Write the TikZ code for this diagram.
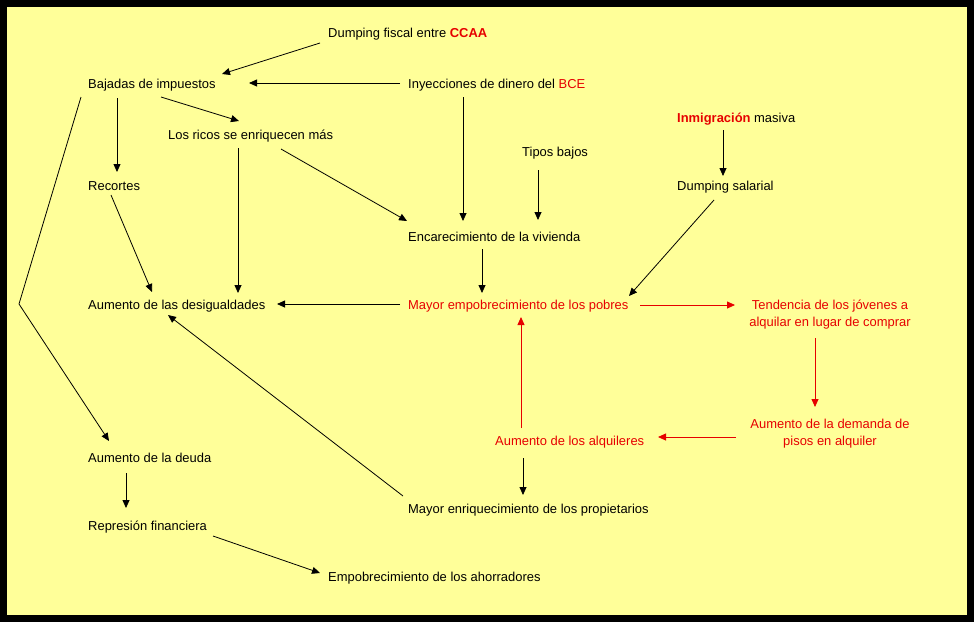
\documentclass[tikz,border=0pt]{standalone}
\usepackage{fontspec}
\setmainfont{Liberation Sans}
\usetikzlibrary{arrows.meta}
\definecolor{bgyellow}{RGB}{255,255,153}
\definecolor{myred}{RGB}{230,0,0}
\begin{document}
\begin{tikzpicture}[x=1pt,y=-1pt,
  lbl/.style={anchor=base west,inner sep=0pt,font=\fontsize{12.95}{17}\selectfont},
  lbl2/.style={anchor=center,inner sep=0pt,align=center,text=myred,font=\fontsize{12.95}{17}\selectfont},
  arr/.style={draw=black,line width=0.8pt,-{Triangle[length=8pt,width=7pt]}},
  rarr/.style={draw=myred,line width=0.8pt,-{Triangle[length=8pt,width=7pt]}},
  ln/.style={draw=black,line width=0.8pt}]
\fill[black] (0,0) rectangle (974,622);
\fill[bgyellow] (7,7) rectangle (967,615);
\useasboundingbox (0,0) rectangle (974,622);

\node[lbl] (dumpfis) at (328,37) {Dumping fiscal entre \textcolor{myred}{\textbf{CCAA}}};
\node[lbl] (bajadas) at (88,88) {Bajadas de impuestos};
\node[lbl] (inyec) at (408,88) {Inyecciones de dinero del \textcolor{myred}{BCE}};
\node[lbl] (ricos) at (168,139) {Los ricos se enriquecen más};
\node[lbl] (inmig) at (677,122) {\textcolor{myred}{\textbf{Inmigración}} masiva};
\node[lbl] (tipos) at (522,156) {Tipos bajos};
\node[lbl] (recortes) at (88,190) {Recortes};
\node[lbl] (dumpsal) at (677,190) {Dumping salarial};
\node[lbl] (encar) at (408,241) {Encarecimiento de la vivienda};
\node[lbl] (desig) at (88,309) {Aumento de las desigualdades};
\node[lbl,text=myred] (empob) at (408,309) {Mayor empobrecimiento de los pobres};
\node[lbl2] (tend) at (830,314.5) {Tendencia de los jóvenes a\\alquilar en lugar de comprar};
\node[lbl2] (demanda) at (830,433.5) {Aumento de la demanda de\\pisos en alquiler};
\node[lbl,text=myred] (alquileres) at (495,445) {Aumento de los alquileres};
\node[lbl] (deuda) at (88,462) {Aumento de la deuda};
\node[lbl] (enriq) at (408,513) {Mayor enriquecimiento de los propietarios};
\node[lbl] (repres) at (88,530) {Represión financiera};
\node[lbl] (ahorr) at (328,581) {Empobrecimiento de los ahorradores};
\coordinate (bend) at (19,304);

\draw[arr] ([shift={(-8,6)}]dumpfis.base west) -- ([shift={(134,-14)}]bajadas.base west);
\draw[arr] ([shift={(-8,-5)}]inyec.base west) -- ([shift={(161,-5)}]bajadas.base west);
\draw[arr] ([shift={(73,9)}]bajadas.base west) -- ([shift={(71,-18)}]ricos.base west);
\draw[arr] ([shift={(29,10)}]bajadas.base west) -- ([shift={(29,-18)}]recortes.base west);
\draw[arr] ([shift={(-7,9)}]bajadas.base west) -- (bend) -- ([shift={(21,-21)}]deuda.base west);
\draw[arr] ([shift={(70,9)}]ricos.base west) -- ([shift={(150,-16)}]desig.base west);
\draw[arr] ([shift={(113,10)}]ricos.base west) -- ([shift={(-1,-20)}]encar.base west);
\draw[arr] ([shift={(55,9)}]inyec.base west) -- ([shift={(55,-20)}]encar.base west);
\draw[arr] ([shift={(16,14)}]tipos.base west) -- ([shift={(130,-21)}]encar.base west);
\draw[arr] ([shift={(46,8)}]inmig.base west) -- ([shift={(46,-14)}]dumpsal.base west);
\draw[arr] ([shift={(23,5)}]recortes.base west) -- ([shift={(64,-17)}]desig.base west);
\draw[arr] ([shift={(74,8)}]encar.base west) -- ([shift={(74,-16)}]empob.base west);
\draw[arr] ([shift={(37,10)}]dumpsal.base west) -- ([shift={(221,-13)}]empob.base west);
\draw[arr] ([shift={(-8,-5)}]empob.base west) -- ([shift={(189,-5)}]desig.base west);
\draw[arr] ([shift={(-5,-17)}]enriq.base west) -- ([shift={(80,6)}]desig.base west);
\draw[rarr] ([shift={(232,-4)}]empob.base west) -- ([shift={(-95,-9.5)}]tend.center);
\draw[rarr] ([shift={(-15,23.5)}]tend.center) -- ([shift={(-15,-26.5)}]demanda.center);
\draw[rarr] ([shift={(-94,3.5)}]demanda.center) -- ([shift={(163,-8)}]alquileres.base west);
\draw[rarr] ([shift={(26,-17)}]alquileres.base west) -- ([shift={(113,8)}]empob.base west);
\draw[arr] ([shift={(28,13)}]alquileres.base west) -- ([shift={(115,-18)}]enriq.base west);
\draw[arr] ([shift={(38,11)}]deuda.base west) -- ([shift={(38,-22)}]repres.base west);
\draw[arr] ([shift={(125,6)}]repres.base west) -- ([shift={(-8,-8)}]ahorr.base west);
\end{tikzpicture}
\end{document}
